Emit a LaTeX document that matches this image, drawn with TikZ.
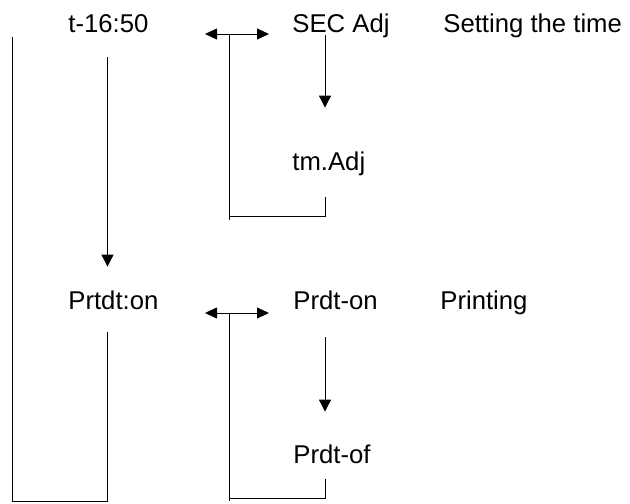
\documentclass[tikz,border=0pt]{standalone}
\usepackage{fontspec}
\setmainfont{Liberation Sans}
\usetikzlibrary{arrows.meta}
\begin{document}
\begin{tikzpicture}[x=1pt,y=-1pt,line width=0.8pt,
  lbl/.style={anchor=base west,inner sep=0pt,text height=19pt,text depth=6pt,font=\fontsize{25.7}{30}\selectfont},
  arr/.style={-{Triangle[length=12pt,width=12pt]}},
  dbl/.style={{Triangle[length=12pt,width=11pt]}-{Triangle[length=12pt,width=11pt]}}]
  \useasboundingbox (0,0) rectangle (630,504);
  % Setting the time
  \node[lbl] (t) at (68,32) {t-16:50};
  \node[lbl] (sec) at (292,32) {SEC Adj};
  \node[lbl] (set) at (443,32) {Setting the time};
  \node[lbl] (tm) at (292,170) {tm.Adj};
  % Printing
  \node[lbl] (prtdt) at (68,309) {Prtdt:on};
  \node[lbl] (prdton) at (293,309) {Prdt-on};
  \node[lbl] (prnt) at (440,309) {Printing};
  \node[lbl] (prdtof) at (293,463) {Prdt-of};
  % Columns and corners
  \coordinate (colA) at (107.5,0);
  \coordinate (colB) at (325,0);
  \coordinate (dl1) at (205,34);
  \coordinate (dr1) at (269,34);
  \coordinate (b1) at (229,34);
  \coordinate (e1) at (229,220);
  \coordinate (bot1) at (325,216);
  \coordinate (dl2) at (205,313);
  \coordinate (dr2) at (269,313);
  \coordinate (b2) at (229,313);
  \coordinate (e2) at (229,501);
  \coordinate (bot2) at (325,498);
  \coordinate (lp) at (12,37);
  \coordinate (lb) at (12,502);
  \coordinate (bot0) at (107.5,501);
  % Down arrows
  \draw[arr,shorten <=19pt,shorten >=23pt] (t.south -| colA) -- (prtdt.north -| colA);
  \draw[arr,shorten <=-3pt,shorten >=43pt] (sec.south -| colB) -- (tm.north -| colB);
  \draw[arr,shorten <=22pt,shorten >=32pt] (prdton.south -| colB) -- (prdtof.north -| colB);
  % Double arrows with return brackets
  \draw[dbl] (dl1) -- (dr1);
  \draw (b1) -- (e1);
  \draw (b1 |- bot1) -- (bot1) -- ([yshift=-21pt]tm.south -| colB);
  \draw[dbl] (dl2) -- (dr2);
  \draw (b2) -- (e2);
  \draw (b2 |- bot2) -- (bot2) -- ([yshift=-10pt]prdtof.south -| colB);
  % Return from Prtdt:on
  \draw (lp) -- (lb);
  \draw (lb |- bot0) -- (bot0) -- ([yshift=-17pt]prtdt.south -| colA);
\end{tikzpicture}
\end{document}
